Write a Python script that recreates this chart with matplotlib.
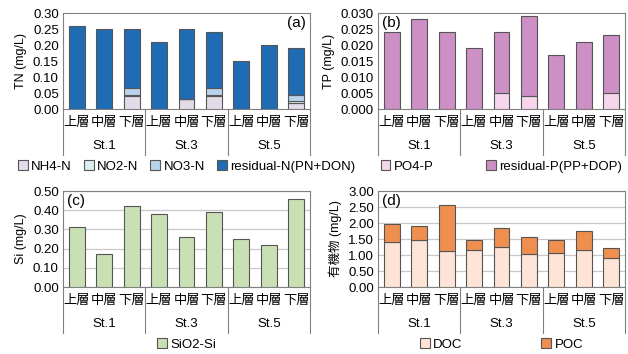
import numpy as np
import matplotlib
matplotlib.use("Agg")
import matplotlib.pyplot as plt

plt.rcParams["font.family"] = ["Liberation Sans", "Noto Sans CJK JP", "DejaVu Sans"]
plt.rcParams["font.size"] = 8.5

# -----------------------------------------------------------------------------
# DATA
# -----------------------------------------------------------------------------
layers   = ["上層", "中層", "下層"] * 3
stations = ["St.1", "St.3", "St.5"]

tn_total = [0.26, 0.25, 0.25, 0.21, 0.25, 0.24, 0.15, 0.20, 0.19]
nh4_n    = [0, 0, 0.040, 0, 0.030, 0.040, 0, 0, 0.020]
no2_n    = [0, 0, 0.004, 0, 0, 0.004, 0, 0, 0.005]
no3_n    = [0, 0, 0.021, 0, 0, 0.021, 0, 0, 0.020]

tp_total = [0.024, 0.028, 0.024, 0.019, 0.024, 0.029, 0.017, 0.021, 0.023]
po4_p    = [0, 0, 0, 0, 0.005, 0.004, 0, 0, 0.005]

si       = [0.31, 0.17, 0.42, 0.38, 0.26, 0.39, 0.25, 0.22, 0.46]

toc      = [1.96, 1.90, 2.55, 1.48, 1.84, 1.56, 1.47, 1.75, 1.23]
doc      = [1.40, 1.46, 1.14, 1.15, 1.25, 1.03, 1.05, 1.15, 0.91]

resid_n = np.array(tn_total) - np.array(nh4_n) - np.array(no2_n) - np.array(no3_n)
resid_p = np.array(tp_total) - np.array(po4_p)
poc     = np.array(toc) - np.array(doc)

EDGE = "#555555"
x = np.arange(9)
W = 0.58

fig = plt.figure(figsize=(6.28, 3.54), dpi=100)
W_AX, H_AX = 247 / 628, 96 / 354
ax_a = fig.add_axes([63 / 628, 1 - 109 / 354, W_AX, H_AX])
ax_b = fig.add_axes([378 / 628, 1 - 109 / 354, W_AX, H_AX])
ax_c = fig.add_axes([63 / 628, 1 - 287 / 354, W_AX, H_AX])
ax_d = fig.add_axes([378 / 628, 1 - 287 / 354, W_AX, H_AX])


def stack(ax, series, colors, labels):
    bottom = np.zeros(9)
    handles = []
    for vals, c, lab in zip(series, colors, labels):
        vals = np.array(vals, dtype=float)
        h = ax.bar(x, vals, W, bottom=bottom, color=c, edgecolor=EDGE,
                   linewidth=0.8, label=lab, zorder=3)
        handles.append(h)
        bottom = bottom + vals
    return handles


def style(ax, ylim, step, fmt, ylabel, tag, tag_pos, grid):
    ax.set_xlim(-0.5, 8.5)
    ax.set_ylim(0, ylim)
    ticks = np.arange(0, ylim + step / 2, step)
    ax.set_yticks(ticks)
    ax.set_yticklabels([fmt.format(v) for v in ticks], fontsize=9.5)
    ax.set_ylabel(ylabel, fontsize=9)
    ax.tick_params(axis="y", length=0, pad=3)
    ax.tick_params(axis="x", length=0, pad=6)
    ax.set_xticks(x)
    ax.set_xticklabels(layers, fontsize=9.5)
    for s in ax.spines.values():
        s.set_color("#808080")
        s.set_linewidth(0.8)
    if grid:
        ax.grid(axis="y", color="#c8c8c8", linewidth=0.9, zorder=0)
    if tag_pos == "right":
        ax.text(0.985, 0.97, tag, transform=ax.transAxes, ha="right", va="top", fontsize=11)
    else:
        ax.text(0.015, 0.97, tag, transform=ax.transAxes, ha="left", va="top", fontsize=11)
    # group axis below categories
    for xp in [-0.5, 2.5, 5.5, 8.5]:
        ax.plot([xp, xp], [0, -0.48], transform=ax.get_xaxis_transform(),
                color="#808080", linewidth=0.8, clip_on=False)
    for i, st in enumerate(stations):
        ax.text(3 * i + 1, -0.39, st, transform=ax.get_xaxis_transform(),
                ha="center", va="center", fontsize=9.5)


def legend(ax, handles, labels, ncol, spacing):
    ax.legend(handles, labels, loc="center", bbox_to_anchor=(0.5, -0.6), ncol=ncol,
              frameon=False, fontsize=9.5, handlelength=0.75, handleheight=0.75,
              handletextpad=0.25, columnspacing=spacing, borderaxespad=0)


# (a) TN
h = stack(ax_a, [nh4_n, no2_n, no3_n, resid_n],
          ["#e2dbea", "#d9eff2", "#b9d3ec", "#1f6cb4"],
          ["NH4-N", "NO2-N", "NO3-N", "residual-N(PN+DON)"])
style(ax_a, 0.30, 0.05, "{:.2f}", "TN (mg/L)", "(a)", "right", False)
legend(ax_a, h, ["NH4-N", "NO2-N", "NO3-N", "residual-N(PN+DON)"], 4, 0.9)

# (b) TP
h = stack(ax_b, [po4_p, resid_p], ["#f5d6ec", "#cc8fc6"],
          ["PO4-P", "residual-P(PP+DOP)"])
style(ax_b, 0.030, 0.005, "{:.3f}", "TP (mg/L)", "(b)", "left", False)
legend(ax_b, h, ["PO4-P", "residual-P(PP+DOP)"], 2, 4.0)

# (c) Si
h = stack(ax_c, [si], ["#c9e0b4"], ["SiO2-Si"])
style(ax_c, 0.50, 0.10, "{:.2f}", "Si (mg/L)", "(c)", "left", True)
legend(ax_c, h, ["SiO2-Si"], 1, 1.0)

# (d) organic matter
h = stack(ax_d, [doc, poc], ["#fde4d6", "#ee8f4f"], ["DOC", "POC"])
style(ax_d, 3.00, 0.50, "{:.2f}", "有機物 (mg/L)", "(d)", "left", True)
legend(ax_d, h, ["DOC", "POC"], 2, 6.0)

plt.savefig("out.png", dpi=100)
plt.close()
